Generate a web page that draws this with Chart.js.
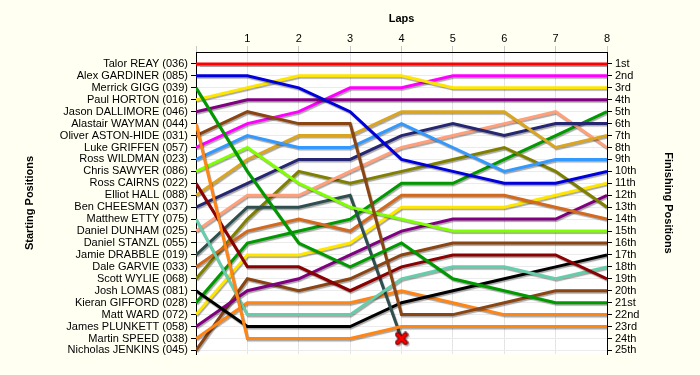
<!DOCTYPE html>
<html>
<head>
<meta charset="utf-8">
<script src="https://cdn.jsdelivr.net/npm/chart.js@4/dist/chart.umd.min.js"></script>
<style>
    body { margin: 0; background: #FFFFF2; }
    #wrap { width: 700px; height: 375px; }
</style>
</head>
<body>
<div id="wrap"><canvas id="lapChart" width="700" height="375"></canvas></div>
<script>
// laps and axis labels
const laps = [0, 1, 2, 3, 4, 5, 6, 7, 8];
const startLabels = [
    'Talor REAY (036)', 'Alex GARDINER (085)', 'Merrick GIGG (039)', 'Paul HORTON (016)',
    'Jason DALLIMORE (046)', 'Alastair WAYMAN (044)', 'Oliver ASTON-HIDE (031)', 'Luke GRIFFEN (057)',
    'Ross WILDMAN (023)', 'Chris SAWYER (086)', 'Ross CAIRNS (022)', 'Elliot HALL (088)',
    'Ben CHEESMAN (037)', 'Matthew ETTY (075)', 'Daniel DUNHAM (025)', 'Daniel STANZL (055)',
    'Jamie DRABBLE (019)', 'Dale GARVIE (033)', 'Scott WYLIE (068)', 'Josh LOMAS (081)',
    'Kieran GIFFORD (028)', 'Matt WARD (072)', 'James PLUNKETT (058)', 'Martin SPEED (038)',
    'Nicholas JENKINS (045)'
];
const finishLabels = [
    '1st', '2nd', '3rd', '4th', '5th', '6th', '7th', '8th', '9th', '10th', '11th', '12th', '13th',
    '14th', '15th', '16th', '17th', '18th', '19th', '20th', '21st', '22nd', '23rd', '24th', '25th'
];

// position of each driver at the end of every lap (lap 0 = grid)
const reay      = [1, 1, 1, 1, 1, 1, 1, 1, 1];
const gardiner  = [2, 2, 3, 5, 9, 10, 11, 11, 10];
const gigg      = [3, 10, 16, 18, 16, 19, 20, 21, 21];
const horton    = [4, 3, 2, 2, 2, 3, 3, 3, 3];
const dallimore = [5, 4, 4, 4, 4, 4, 4, 4, 4];
const wayman    = [6, 24, 24, 24, 23, 23, 23, 23, 23];
const astonHide = [7, 5, 6, 6, 22, 22, 21, 20, 20];
const griffen   = [8, 6, 5, 3, 3, 2, 2, 2, 2];
const wildman   = [9, 7, 8, 8, 6, 8, 10, 9, 9];
const sawyer    = [10, 8, 11, 13, 14, 15, 15, 15, 15];
const cairns    = [11, 18, 18, 20, 18, 17, 17, 17, 19];
const hall      = [12, 9, 7, 7, 5, 5, 5, 8, 7];
const cheesman  = [13, 11, 9, 9, 7, 6, 7, 6, 6];
const etty      = [14, 22, 22, 22, 19, 18, 18, 19, 18];
const dunham    = [15, 12, 12, 10, 8, 7, 6, 5, 8];
const stanzl    = [null, null, null, null, null, null, null, null, null]; // did not start
const drabble   = [17, 13, 13, 12, 24, null, null, null, null];          // retired lap 4
const garvie    = [18, 15, 14, 15, 12, 12, 12, 13, 14];
const wylie     = [19, 14, 10, 11, 10, 9, 8, 10, 13];
const lomas     = [20, 23, 23, 23, 21, 20, 19, 18, 17];
const gifford   = [21, 16, 15, 14, 11, 11, 9, 7, 5];
const ward      = [22, 17, 17, 16, 13, 13, 13, 12, 11];
const plunkett  = [23, 20, 19, 17, 15, 14, 14, 14, 12];
const speed     = [24, 21, 21, 21, 20, 21, 22, 22, 22];
const jenkins   = [25, 19, 20, 19, 17, 16, 16, 16, 16];

const positions = [reay, gardiner, gigg, horton, dallimore, wayman, astonHide, griffen, wildman,
    sawyer, cairns, hall, cheesman, etty, dunham, stanzl, drabble, garvie, wylie, lomas,
    gifford, ward, plunkett, speed, jenkins];

const colors = ['#FF0000', '#0000DD', '#009900', '#FFE600', '#800080', '#FF8514', '#8B4513', '#FF00FF',
    '#3399FF', '#80FF00', '#8B0000', '#DAA520', '#262673', '#66CDAA', '#FFA07A', '#999999',
    '#2F4F4F', '#D2691E', '#808000', '#000000', '#009900', '#FFE600', '#800080', '#FF8514', '#8B4513'];

// red cross used where a driver retired
function retiredIcon() {
    const c = document.createElement('canvas');
    c.width = 14; c.height = 14;
    const g = c.getContext('2d');
    g.lineCap = 'round';
    g.beginPath();
    g.moveTo(3, 3); g.lineTo(11, 11);
    g.moveTo(11, 3); g.lineTo(3, 11);
    g.strokeStyle = '#660000'; g.lineWidth = 5; g.stroke();
    g.strokeStyle = '#FF0000'; g.lineWidth = 3; g.stroke();
    return c;
}

const retired = [];
positions.forEach(arr => {
    const last = arr.reduce((a, v, i) => (v !== null ? i : a), -1);
    if (last >= 0 && last < laps.length - 1) retired.push({ x: laps[last], y: arr[last] });
});

const datasets = positions.map((arr, i) => ({
    label: startLabels[i],
    data: laps.map((l, j) => ({ x: l, y: arr[j] })),
    borderColor: colors[i],
    borderWidth: 3,
    pointRadius: 0,
    tension: 0,
    fill: false
}));
datasets.unshift({
    type: 'scatter',
    label: 'Retired',
    data: retired,
    pointStyle: retiredIcon(),
    pointRadius: 7,
    showLine: false
});

const backdrop = {
    id: 'backdrop',
    beforeDraw(chart) {
        const { ctx, chartArea: a } = chart;
        ctx.save();
        ctx.fillStyle = '#FFFFF2';
        ctx.fillRect(0, 0, chart.width, chart.height);
        ctx.fillStyle = '#FFFFFF';
        ctx.fillRect(a.left, a.top, a.right - a.left, a.bottom - a.top);
        ctx.restore();
    }
};

const shadow = {
    id: 'shadow',
    beforeDatasetDraw(chart) {
        const ctx = chart.ctx;
        ctx.save();
        ctx.shadowColor = 'rgba(0,0,0,0.35)';
        ctx.shadowOffsetX = 1;
        ctx.shadowOffsetY = 1.5;
        ctx.shadowBlur = 1;
    },
    afterDatasetDraw(chart) {
        chart.ctx.restore();
    }
};

Chart.defaults.font.family = "'Liberation Sans', Arial, sans-serif";
Chart.defaults.font.size = 11;
Chart.defaults.color = '#000';

const rowTicks = scale => { scale.ticks = startLabels.map((_, i) => ({ value: i + 1 })); };

new Chart(document.getElementById('lapChart'), {
    type: 'line',
    data: { datasets: datasets },
    plugins: [backdrop, shadow],
    options: {
        responsive: false,
        animation: false,
        devicePixelRatio: 1,
        layout: { padding: { bottom: 21 } },
        plugins: { legend: { display: false }, tooltip: { enabled: false } },
        scales: {
            x: {
                type: 'linear',
                position: 'top',
                min: 0,
                max: 8,
                afterFit: s => { s.height = 52; },
                ticks: {
                    stepSize: 1,
                    padding: 0,
                    callback: v => (v === 0 ? '' : v)
                },
                grid: { color: '#E4E4E4', tickColor: '#C8C8C8', tickLength: 6 },
                border: { color: '#000', width: 1 },
                title: {
                    display: true,
                    text: 'Laps',
                    font: { weight: 'bold', size: 11 },
                    padding: { top: 12, bottom: 0 }
                }
            },
            y: {
                type: 'linear',
                position: 'left',
                reverse: true,
                min: 0,
                max: 25.3,
                afterFit: s => { s.width = 196; },
                afterBuildTicks: rowTicks,
                ticks: {
                    autoSkip: false,
                    padding: 3,
                    callback: v => startLabels[v - 1]
                },
                grid: { color: '#EBEBEB', tickColor: '#000', tickLength: 5 },
                border: { color: '#000', width: 1 },
                title: {
                    display: true,
                    text: 'Starting Positions',
                    font: { weight: 'bold', size: 11 },
                    padding: { top: 23, bottom: 0 }
                }
            },
            y2: {
                type: 'linear',
                position: 'right',
                reverse: true,
                min: 0,
                max: 25.3,
                afterFit: s => { s.width = 93; },
                afterBuildTicks: rowTicks,
                ticks: {
                    autoSkip: false,
                    padding: 3,
                    callback: v => finishLabels[v - 1]
                },
                grid: { drawOnChartArea: false, tickColor: '#000', tickLength: 5 },
                border: { color: '#000', width: 1 },
                title: {
                    display: true,
                    text: 'Finishing Positions',
                    font: { weight: 'bold', size: 11 },
                    padding: { top: 25, bottom: 0 }
                }
            }
        }
    }
});
</script>
</body>
</html>
